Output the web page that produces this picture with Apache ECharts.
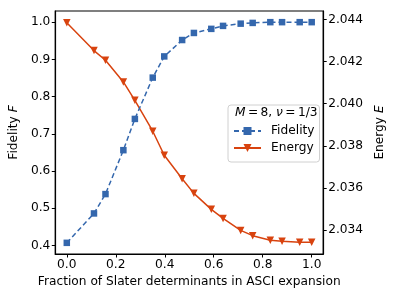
<!DOCTYPE html>
<html><head><meta charset="utf-8">
<script src="https://cdn.jsdelivr.net/npm/echarts@6/dist/echarts.min.js"></script>
<style>html,body{margin:0;padding:0;background:#fff}#c{width:394px;height:296px}</style>
</head><body><div id="c"></div>
<script>
const xFrac = [0.0, 0.111, 0.158, 0.231, 0.278, 0.351, 0.398, 0.471, 0.519, 0.590, 0.638, 0.710, 0.759, 0.831, 0.879, 0.951, 1.0];
const fidelity = [0.407, 0.486, 0.538, 0.656, 0.740, 0.851, 0.908, 0.952, 0.971, 0.982, 0.990, 0.996, 0.998, 1.0, 1.0, 1.0, 1.0];
const energy = [2.04384, 2.04252, 2.04206, 2.04103, 2.04016, 2.03869, 2.03755, 2.03643, 2.03574, 2.03498, 2.03455, 2.03398, 2.03373, 2.03351, 2.03346, 2.03342, 2.03342];
const xTicks = [0.0, 0.2, 0.4, 0.6, 0.8, 1.0];
const fTicks = [0.4, 0.5, 0.6, 0.7, 0.8, 0.9, 1.0];
const eTicks = [2.034, 2.036, 2.038, 2.040, 2.042, 2.044];
const seriesNames = ['Fidelity', 'Energy'];

const FONT = 'DejaVu Sans';
const FS = 12.2;
const blue = '#3467ad';
const red = '#d8430f';

const chart = echarts.init(document.getElementById('c'), null, {renderer: 'canvas'});
const mkLine = () => ({show: true, onZero: false, lineStyle: {color: '#000', width: 1.2}});
const lbl = () => ({color: '#000', fontFamily: FONT, fontSize: FS});
const nameStyle = () => ({color: '#000', fontFamily: FONT, fontSize: FS,
  rich: {n: {fontFamily: FONT, fontSize: FS, color: '#000'}, i: {fontFamily: FONT, fontSize: FS, fontStyle: 'italic', color: '#000'}}});
const tick = (vals) => ({show: true, inside: false, length: 3.5, lineStyle: {color: '#000', width: 1}, customValues: vals});
chart.setOption({
  animation: false,
  backgroundColor: '#fff',
  grid: {left: 53, top: 11, right: 68, bottom: 42, containLabel: false,
    show: true, borderColor: '#000', borderWidth: 1.2, backgroundColor: 'transparent'},
  title: {
    text: '{i|M}\u2009=\u20098, {i|ν}\u2009=\u20091/3',
    left: 235, top: 107, padding: 0,
    textStyle: {fontFamily: FONT, fontSize: FS, fontWeight: 'normal', color: '#000',
      rich: {i: {fontStyle: 'italic', fontFamily: FONT, fontSize: FS, color: '#000'}}}
  },
  legend: {
    orient: 'vertical', left: 228, top: 105,
    padding: [19, 5, 7, 5],
    itemWidth: 27, itemHeight: 10, itemGap: 3,
    borderColor: '#d0d0d0', borderWidth: 1, borderRadius: 3,
    backgroundColor: 'rgba(255,255,255,0.85)',
    textStyle: {fontFamily: FONT, fontSize: FS, color: '#000', lineHeight: 14, padding: [0, 0, 0, 5]},
    data: seriesNames
  },
  xAxis: [{
    type: 'value', min: -0.047, max: 1.047, position: 'bottom',
    name: 'Fraction of Slater determinants in ASCI expansion',
    nameLocation: 'middle', nameGap: 21, nameTextStyle: nameStyle(),
    axisLine: mkLine(), splitLine: {show: false},
    axisTick: tick(xTicks),
    axisLabel: {...lbl(), margin: 5, customValues: xTicks, formatter: v => v.toFixed(1)}
  }],
  yAxis: [{
    type: 'value', min: 0.377, max: 1.030, position: 'left',
    name: '{n|Fidelity }{i|F}', nameLocation: 'middle', nameGap: 26, nameRotate: 90,
    nameTextStyle: nameStyle(),
    axisLine: mkLine(), splitLine: {show: false},
    axisTick: tick(fTicks),
    axisLabel: {...lbl(), margin: 5, customValues: fTicks, formatter: v => v.toFixed(1)}
  }, {
    type: 'value', min: 2.03286, max: 2.0444, position: 'right',
    name: '{n|Energy }{i|E}', nameLocation: 'middle', nameGap: 43, nameRotate: 90,
    nameTextStyle: nameStyle(),
    axisLine: mkLine(), splitLine: {show: false},
    axisTick: tick(eTicks),
    axisLabel: {...lbl(), margin: 5, customValues: eTicks, formatter: v => v.toFixed(3)}
  }],
  series: [{
    name: seriesNames[0], type: 'line', xAxisIndex: 0, yAxisIndex: 0,
    data: xFrac.map((x, i) => [x, fidelity[i]]),
    symbol: 'rect', symbolSize: 6.5,
    itemStyle: {color: blue},
    lineStyle: {color: blue, width: 1.5, type: [5, 3]},
    z: 3
  }, {
    name: seriesNames[1], type: 'line', xAxisIndex: 0, yAxisIndex: 1,
    data: xFrac.map((x, i) => [x, energy[i]]),
    symbol: 'triangle', symbolRotate: 180, symbolSize: 7.5,
    itemStyle: {color: red},
    lineStyle: {color: red, width: 1.5},
    z: 2
  }]
});
</script></body></html>
